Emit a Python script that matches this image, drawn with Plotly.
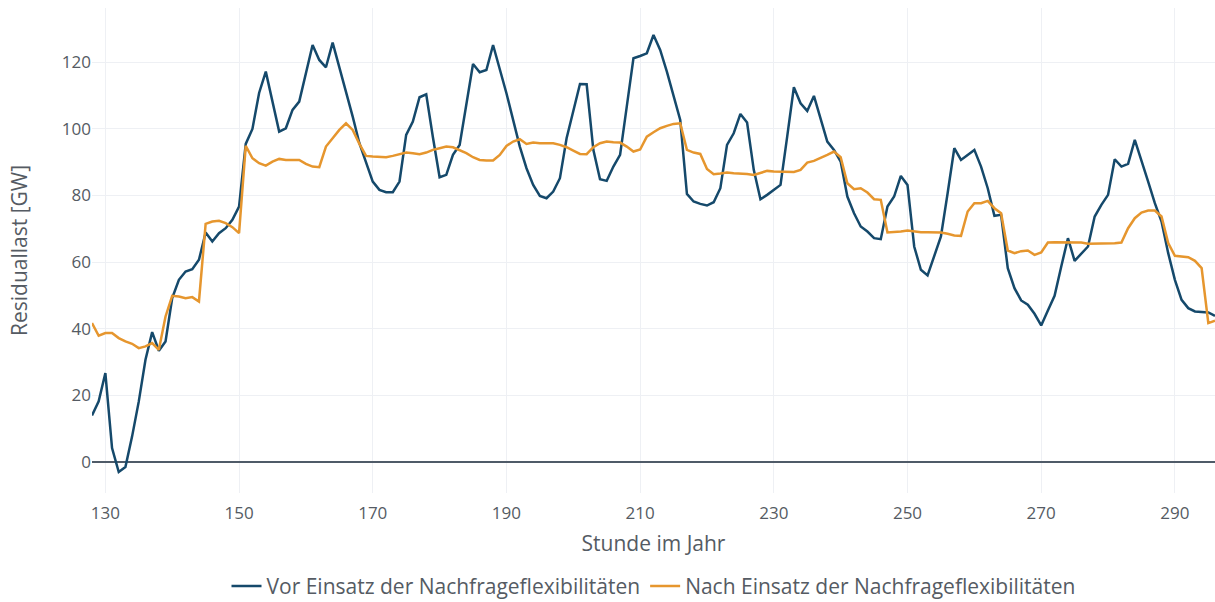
import plotly.graph_objects as go

hours = list(range(128, 297))

vor = [
    14.0, 18.2, 26.7, 4.2, -3.0, -1.5, 7.7, 18.2, 30.7, 39.0,      # 128-137
    33.4, 36.2, 49.2, 54.7, 57.2, 57.9, 60.7, 68.9, 66.2, 68.7,   # 138-147
    70.2, 72.7, 76.7, 95.5, 100.0, 110.8, 117.2, 108.0, 99.2, 100.2,  # 148-157
    105.7, 108.2, 116.7, 125.2, 120.7, 118.5, 125.9, 118.7, 111.2, 103.7,  # 158-167
    95.7, 89.7, 84.2, 81.7, 81.0, 81.0, 84.2, 98.2, 102.2, 109.5,  # 168-177
    110.4, 97.5, 85.5, 86.2, 92.2, 95.2, 106.7, 119.5, 117.0, 117.7,  # 178-187
    125.2, 118.2, 110.7, 102.7, 94.7, 88.2, 83.2, 79.9, 79.2, 81.2,  # 188-197
    85.2, 97.2, 105.2, 113.5, 113.4, 93.7, 84.9, 84.4, 88.7, 92.2,  # 198-207
    106.7, 121.2, 121.9, 122.7, 128.2, 123.7, 117.2, 110.2, 102.7, 80.5,  # 208-217
    78.2, 77.5, 77.0, 78.0, 82.2, 95.2, 98.7, 104.5, 101.9, 87.7,  # 218-227
    78.9, 80.2, 81.7, 83.2, 97.7, 112.5, 107.7, 105.4, 109.9, 103.2,  # 228-237
    96.2, 93.7, 90.2, 79.7, 74.7, 70.7, 69.2, 67.2, 66.9, 76.7,  # 238-247
    79.7, 85.9, 83.2, 64.7, 57.7, 56.0, 61.7, 67.7, 80.7, 94.2,  # 248-257
    90.7, 92.2, 93.7, 88.7, 82.2, 73.9, 74.2, 58.2, 52.2, 48.5,  # 258-267
    47.2, 44.5, 41.0, 45.5, 49.9, 58.7, 67.2, 60.4, 62.5, 64.7,  # 268-277
    73.7, 77.2, 80.2, 90.9, 88.7, 89.5, 96.7, 90.7, 84.2, 77.7,  # 278-287
    72.2, 62.7, 54.7, 48.7, 46.2, 45.2, 45.0, 44.9, 43.9,        # 288-296
]

nach = [
    41.7, 37.9, 38.7, 38.7, 37.2, 36.2, 35.5, 34.2, 34.7, 35.7,   # 128-137
    33.7, 43.7, 49.9, 49.7, 49.2, 49.5, 48.2, 71.5, 72.2, 72.4,   # 138-147
    71.7, 70.5, 68.7, 94.9, 91.2, 89.7, 89.0, 90.2, 91.0, 90.7,   # 148-157
    90.7, 90.7, 89.5, 88.7, 88.5, 94.7, 97.2, 99.7, 101.7, 99.7,  # 158-167
    95.5, 91.9, 91.7, 91.7, 91.5, 91.9, 92.4, 92.9, 92.7, 92.4,   # 168-177
    92.9, 93.7, 94.2, 94.7, 94.5, 93.6, 92.7, 91.5, 90.7, 90.5,   # 178-187
    90.5, 92.2, 94.9, 96.2, 96.9, 95.5, 95.9, 95.7, 95.7, 95.7,   # 188-197
    95.2, 94.5, 93.5, 92.5, 92.4, 94.5, 95.7, 96.2, 96.0, 95.9,   # 198-207
    94.7, 93.2, 93.8, 97.7, 99.0, 100.2, 100.9, 101.5, 101.7, 93.7,  # 208-217
    92.9, 92.5, 88.0, 86.4, 86.6, 86.9, 86.7, 86.7, 86.5, 86.2,   # 218-227
    86.7, 87.4, 87.2, 87.1, 87.1, 87.1, 87.7, 89.9, 90.4, 91.2,   # 228-237
    92.2, 93.2, 91.5, 83.7, 81.9, 82.2, 80.9, 78.9, 78.7, 68.9,   # 238-247
    69.0, 69.2, 69.5, 69.2, 69.0, 69.0, 68.9, 68.9, 68.5, 68.0,   # 248-257
    67.9, 75.2, 77.7, 77.7, 78.4, 76.2, 74.7, 63.5, 62.7, 63.3,   # 258-267
    63.5, 62.2, 62.9, 65.9, 66.0, 66.0, 66.0, 66.0, 65.9, 65.5,   # 268-277
    65.5, 65.5, 65.5, 65.7, 65.9, 70.2, 73.2, 74.9, 75.5, 75.5,   # 278-287
    73.7, 65.7, 61.9, 61.7, 61.5, 60.4, 58.2, 41.7, 42.4,         # 288-296
]

series_names = ["Vor Einsatz der Nachfrageflexibilitäten",
                "Nach Einsatz der Nachfrageflexibilitäten"]
colors = ["#15496b", "#e6962e"]

fig = go.Figure()
fig.add_trace(go.Scatter(x=hours, y=vor, mode="lines", name=series_names[0],
                         line=dict(color=colors[0], width=2.5)))
fig.add_trace(go.Scatter(x=hours, y=nach, mode="lines", name=series_names[1],
                         line=dict(color=colors[1], width=2.5)))

txt = "#555b63"
fig.update_layout(
    width=1215, height=602,
    paper_bgcolor="white", plot_bgcolor="white",
    margin=dict(l=92, r=0, t=8, b=109, autoexpand=False),
    font=dict(family="Open Sans, sans-serif", color=txt, size=17),
    showlegend=True,
    legend=dict(orientation="h", x=0.5, xanchor="center",
                yref="container", y=0.026, yanchor="middle",
                itemwidth=30, tracegroupgap=0,
                font=dict(size=21, color=txt)),
    xaxis=dict(range=[128, 296], tick0=130, dtick=20, showgrid=True,
               gridcolor="#eef0f4", zeroline=False, showline=False,
               automargin=True, ticks="outside", ticklen=5,
               tickcolor="rgba(0,0,0,0)",
               title=dict(text="Stunde im Jahr", font=dict(size=21, color=txt),
                          standoff=12),
               tickfont=dict(size=17, color=txt)),
    yaxis=dict(range=[-9.3, 136.3], tick0=0, dtick=20, showgrid=True,
               gridcolor="#eef0f4", zeroline=True, zerolinecolor="#4f5b68",
               zerolinewidth=2, showline=False, automargin=True,
               title=dict(text="Residuallast [GW]", font=dict(size=21, color=txt),
                          standoff=28),
               tickfont=dict(size=17, color=txt)),
)

fig.write_html(
    "out.html",
    config={"displayModeBar": False},
    post_script="document.body.style.margin='0px';document.body.style.overflow='hidden';",
)
